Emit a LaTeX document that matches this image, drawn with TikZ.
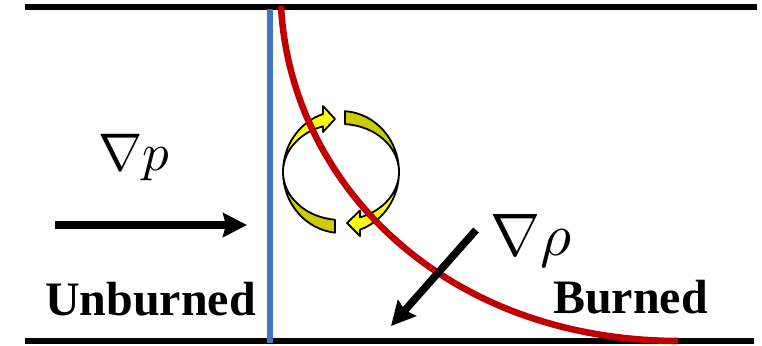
\documentclass[tikz,border=0pt]{standalone}
\usepackage{fontspec}
\setmainfont{Liberation Serif}
\usetikzlibrary{arrows.meta}
\definecolor{flameblue}{HTML}{4472C4}
\definecolor{flamered}{HTML}{C00000}
\definecolor{vbright}{HTML}{FFFF00}
\definecolor{vdark}{HTML}{CCCC00}
\tikzset{
  wall/.style={line width=6pt, black},
  bigarrow/.style={line width=7.5pt, -{Stealth[length=24pt, width=24pt, inset=3pt]}},
  vortex/.style={draw=black, line width=1.8pt, line join=round},
  lbl/.style={font=\bfseries\fontsize{48}{52}\selectfont, inner sep=0pt, anchor=base west},
  grad/.style={inner sep=0pt, anchor=base west, font=\fontsize{10}{12}\selectfont}
}
\begin{document}
\begin{tikzpicture}[x=1pt,y=-1pt]
\useasboundingbox (0,0) rectangle (762,345);
% channel walls
\coordinate (tl) at (25,7); \coordinate (tr) at (757,7);
\coordinate (bl) at (25,341); \coordinate (br) at (754,341);
\draw[wall] (tl) -- (tr);
\draw[wall] (bl) -- (br);
% flame front (blue)
\coordinate (ft) at (270,9); \coordinate (fb) at (270,343);
\draw[flameblue, line width=6pt] (ft) -- (fb);
% vortex
\coordinate (vc) at (341,172);
% top-right dark tail
\path[vortex, fill=vdark] (vc) ++(274:58 and 61)
  arc[start angle=274, end angle=360, x radius=58, y radius=61]
  arc[start angle=360, end angle=274, x radius=58, y radius=48] -- cycle;
% bottom-left dark tail
\path[vortex, fill=vdark] (vc) ++(96:58 and 61)
  arc[start angle=96, end angle=180, x radius=58, y radius=61]
  arc[start angle=180, end angle=96, x radius=58, y radius=48] -- cycle;
% top-left bright arrow
\path[vortex, fill=vbright] (vc) ++(180:58 and 61)
  arc[start angle=180, end angle=252, x radius=58, y radius=61]
  -- (323,106) -- (335,119) -- (323,132) -- (323.1,126.3)
  arc[start angle=252, end angle=180, x radius=58, y radius=48] -- cycle;
% bottom-right bright arrow
\path[vortex, fill=vbright] (vc) ++(0:58 and 61)
  arc[start angle=0, end angle=71, x radius=58, y radius=61]
  -- (360,236) -- (347,223) -- (360,210.5) -- (359.9,217.4)
  arc[start angle=71, end angle=0, x radius=58, y radius=48] -- cycle;
% flame front (red)
\coordinate (rt) at (281,6); \coordinate (rb) at (678,341);
\draw[flamered, line width=6.5pt] (rt) .. controls (290,180) and (440,340) .. (rb);
% pressure gradient
\coordinate (pa) at (55,225); \coordinate (pb) at (247,225);
\draw[bigarrow] (pa) -- (pb);
\node[grad, scale=5.3] (gp) at (97,170) {$\nabla p$};
% density gradient
\coordinate (da) at (476,230); \coordinate (db) at (391,326);
\draw[bigarrow] (da) -- (db);
\node[grad, scale=6.0] (gr) at (489,255) {$\nabla \rho$};
% labels
\node[lbl] (ub) at (45,315) {Unburned};
\node[lbl] (bu) at (553,313) {Burned};
\end{tikzpicture}
\end{document}
